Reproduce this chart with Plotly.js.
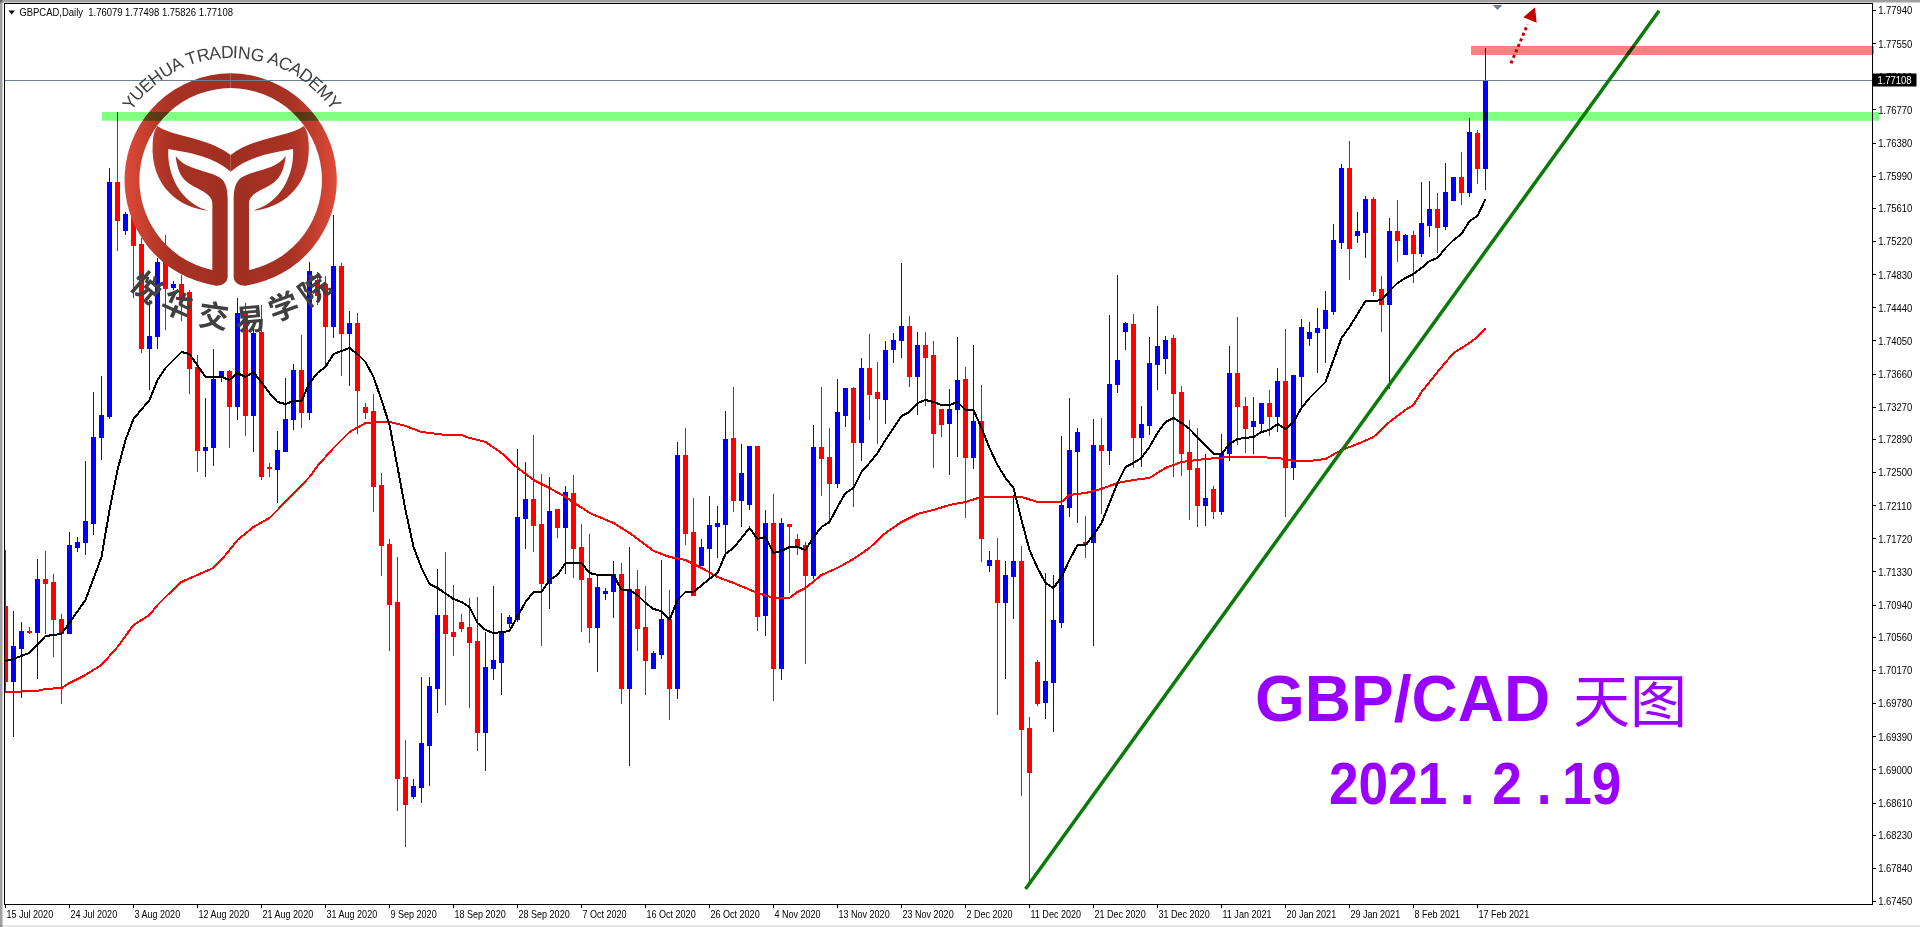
<!DOCTYPE html>
<html><head><meta charset="utf-8">
<script src="https://cdn.plot.ly/plotly-3.0.1.min.js"></script>
<style>
html,body{margin:0;padding:0;background:#fff;overflow:hidden}
#chart{width:1920px;height:927px}
.layer-above .shapelayer path{mix-blend-mode:multiply}
.boxlayer path,.scatterlayer path{shape-rendering:crispEdges !important}
</style></head><body><div id="chart"></div>
<script>
// GBPCAD daily candles, in points (1e-5)
const highs=[171589,170870,170741,170682,171483,171578,171307,170835,171801,171742,
172637,173449,173637,176086,176745,175568,175827,175262,174532,175027,
175297,174756,174826,174650,173884,173379,173955,173696,173708,174556,
174497,174238,174473,172614,172990,173614,173779,174120,174979,174862,
174814,175533,174968,174403,174379,173319,173425,172496,171719,171507,
169352,168893,170094,170094,171366,171566,171177,170835,171024,171036,
170623,171165,170847,170823,172778,172625,172943,172484,172448,172060,
172343,172472,171895,171778,171295,171142,171460,171436,171625,171354,
171165,170400,171472,171118,172861,173025,172202,171719,172225,172107,
173226,173508,172837,172813,172802,172060,172249,171966,171895,171778,
171683,173061,173508,173025,173602,173496,173508,173849,174132,173802,
174049,174144,174968,174344,174155,174155,174049,173238,173485,174097,
173743,174002,173532,171578,171730,171460,172237,171636,169623,170294,
171318,171295,172931,173379,173025,171990,173131,173143,174356,174826,
174273,174367,173284,174097,174461,174108,174120,173520,173120,173025,
172720,172343,172955,173991,174332,173390,173390,173319,173473,173732,
174191,173649,174308,174273,174438,174638,175427,176133,176404,175568,
175756,175745,174814,175497,175709,175309,175344,175921,175933,175792,
176145,175980,176274,176675,176533,177498];
const bodyHigh=[170918,170458,170635,170635,171236,171236,171201,170776,171636,171683,
171919,172919,173167,175921,175921,175533,175709,175180,174108,174968,
175062,174709,174709,174615,173732,172790,173591,173685,173685,174379,
174379,174132,174144,172555,172766,173120,173708,173708,174862,174767,
174709,174932,174932,174250,174250,173261,173214,172343,171648,170965,
168905,168799,169305,169976,170823,170823,170623,170741,170682,170506,
170200,170282,170635,170800,171966,172178,172178,171884,172037,172060,
172260,172249,171613,171259,171142,171106,171295,171295,171118,171118,
170682,170365,170765,170765,172707,172707,171789,171613,171872,171895,
172884,172896,172484,172802,172802,171895,171895,171895,171884,171707,
171636,172790,172790,172673,173202,173496,173485,173720,173720,173449,
173932,174061,174226,174226,174002,174002,173873,173238,173238,173579,
173591,173096,173096,171460,171460,171283,171448,171448,169482,170270,
170035,170753,172107,172755,172978,171683,172825,172825,173543,173814,
174250,174238,173061,173790,173979,174061,174073,173449,172731,172543,
172190,172296,172720,173661,173661,173284,173096,173319,173308,173567,
173567,173649,174214,174155,174202,174403,175227,176086,176086,175333,
175721,175721,174650,175344,175344,175297,175297,175427,175603,175592,
175792,175980,175980,176510,176498,177108];
const bodyLow=[170046,170035,170435,170623,170623,171189,170765,170600,170611,171613,
171672,171895,172919,173155,175474,175356,175168,173967,173967,174097,
174662,174685,174556,173720,172755,172755,172790,173626,173273,173273,
173178,173178,172460,172543,172531,172743,173120,173202,173202,174591,
174226,174226,174132,174132,173461,173202,172331,171636,170953,168893,
168587,168681,168787,169293,169964,170611,170565,170670,170494,169435,
169435,170188,170270,170729,170765,171954,171872,171189,171189,171848,
171848,171601,171236,170682,170682,171071,171095,169953,169953,170670,
170282,170188,170353,169964,169964,171778,171048,171401,171601,171860,
171884,172166,172166,172119,170811,170823,170188,170188,171860,171625,
171283,171283,172661,172366,172366,173167,172849,172849,173425,173367,
173355,173955,174061,173637,173626,173861,172955,173072,173084,173238,
172673,172673,171719,171401,170976,170976,171271,169470,168964,169776,
169788,170023,170741,172095,172743,171648,171683,172755,172755,173532,
174167,172908,172908,173049,173767,173838,173437,172720,172531,172107,
172107,172037,172037,172720,173273,173025,173037,173084,173155,173155,
172566,172566,173637,174073,174155,174191,174391,175215,175133,175297,
175321,174638,174485,174485,175238,175062,175085,175085,175415,175380,
175392,175709,175792,175792,176086,176079];
const lows=[169905,169387,169847,170600,170070,170600,170329,169776,170600,171566,
171531,171766,172649,173131,175109,175297,174556,173908,173473,173955,
174179,174650,174285,173425,172507,172448,172578,173567,172790,173120,
172931,172743,172413,172448,172143,172743,173002,173025,173120,174473,
173767,174085,173637,173520,172955,173131,172037,171283,170400,168516,
168092,168657,168610,168810,169670,169764,170341,170623,169729,169223,
168988,170058,169882,170670,170741,171601,171566,170458,170894,171730,
171307,171259,170623,170494,170153,171000,170788,169776,169046,170400,
169882,170188,170306,169588,169835,171648,171048,171401,171259,171495,
171542,172037,171860,172060,170635,170576,169811,170058,171083,171531,
170247,171248,172225,171895,172319,173037,172095,172637,173120,172837,
173072,173790,173849,173508,173178,173284,172555,172919,172472,172684,
171966,172543,171448,171330,169646,170070,170776,168693,167664,169752,
169600,169447,170670,171978,171907,171495,170458,172013,172590,173437,
173943,172555,172566,172943,173473,173661,172448,172460,171943,171860,
171872,171954,172002,172637,172825,172731,172720,172978,172931,172978,
171978,172413,173238,173991,173673,173790,174356,175133,174767,175203,
175027,174579,174155,173485,174979,175062,174732,175038,175274,175085,
175356,175709,175651,175745,175898,175826];
// B = up candle (blue), R = down candle (red)
const dirs="RBBRBRRRBB"+"BBBBRBRRBB"+"RBRRRBBBRB"+"RBRRBBBRBR"+"RBRBRRRRRR"+"RBBBBRRRRR"+"BBBBBBRRBR"+"BRRRBBBRBR"+"RBBRBRRBBB"+"BRBBRBRBRR"+"RBRRBBRBRR"+"BBBRBRRRBB"+"RBRBRBBRRR"+"BBBBBRBRBB"+"BRBBBBRRRR"+"BRBBRRBBRB"+"RBBBBBBBRB"+"BRRBRBRBBR"+"BBRBRB";

// Fast moving average (black)
const maFastBars=[0,1,3,5,7,8,10,12,13,14,15,16,18,19,20,21,22,23,24,25,27,28,29,30,31,32,33,34,35,36,37,38,39,40,41,43,44,45,46,47,48,49,50,51,52,53,54,56,57,58,59,60,61,62,63,65,66,67,68,69,70,71,72,73,74,76,77,78,79,80,81,82,83,84,85,86,87,88,89,90,91,92,93,94,95,96,97,98,99,100,101,102,103,104,105,106,107,108,109,110,111,112,113,114,115,116,117,118,119,120,121,122,123,124,125,126,127,128,129,130,131,132,133,134,135,136,137,138,139,140,141,142,143,144,145,146,147,148,149,150,151,152,153,154,155,156,157,158,159,160,161,162,163,164,165,166,167,168,169,170,171,172,173,174,175,176,177,178,179,180,181,182,183,184,185];
const maFast=[170282,170306,170377,170576,170600,170729,171000,171507,172060,172531,172884,173131,173355,173591,173732,173826,173920,173896,173767,173626,173626,173591,173673,173626,173685,173555,173437,173331,173308,173343,173343,173555,173673,173743,173896,173967,173896,173802,173626,173355,173061,172566,172060,171625,171378,171189,171142,171012,170976,170918,170729,170647,170611,170623,170635,170976,171095,171095,171236,171295,171436,171436,171436,171318,171295,171295,171118,171118,171059,170965,170894,170870,170765,171000,171095,171095,171177,171248,171318,171542,171613,171730,171848,171719,171742,171554,171578,171625,171625,171589,171742,171860,171919,172095,172260,172319,172507,172614,172731,172884,173025,173167,173214,173319,173355,173331,173296,173296,173331,173238,173238,173025,172790,172590,172437,172319,171943,171589,171378,171201,171142,171271,171472,171648,171648,171766,171907,172143,172378,172566,172614,172673,172802,172967,173096,173143,173084,173014,172919,172813,172720,172720,172837,172896,172908,172919,172978,173002,173072,173014,173096,173261,173379,173473,173567,173826,174085,174214,174367,174520,174520,174532,174638,174732,174791,174838,174909,174991,175027,175144,175238,175309,175462,175521,175721];
// Slow moving average (red)
const maSlowBars=[0,4,5,7,8,10,12,14,16,18,19,20,22,24,26,27,29,31,33,34,36,38,39,41,43,45,47,48,50,52,55,57,58,60,62,64,66,68,70,72,73,76,78,80,81,83,85,87,89,91,94,96,98,99,100,102,104,106,108,110,112,114,116,118,120,122,125,127,129,132,133,135,137,139,141,143,145,147,150,153,156,159,161,163,165,167,169,171,173,175,176,177,179,181,183,184,185];
const maSlow=[169917,169929,169953,169964,170023,170118,170235,170447,170706,170823,170941,171036,171213,171295,171378,171472,171707,171860,171966,172060,172260,172448,172578,172790,172978,173084,173096,173096,173049,172978,172943,172943,172908,172861,172731,172555,172413,172319,172213,172084,172025,171907,171789,171648,171578,171507,171472,171378,171271,171201,171083,171024,171024,171095,171142,171295,171378,171483,171613,171789,171919,172013,172060,172119,172154,172213,172213,172213,172154,172154,172237,172260,172308,172378,172413,172437,172555,172625,172661,172684,172684,172673,172637,172637,172661,172766,172837,172919,173096,173238,173296,173449,173685,173908,174026,174097,174202];

const yTickLabels=["1.77940","1.77550","1.77160","1.76770","1.76380","1.75990","1.75610","1.75220","1.74830","1.74440","1.74050","1.73660","1.73270","1.72890","1.72500","1.72110","1.71720","1.71330","1.70940","1.70560","1.70170","1.69780","1.69390","1.69000","1.68610","1.68230","1.67840","1.67450"];
const xTickBars=[0,8,16,24,32,40,48,56,64,72,80,88,96,104,112,120,128,136,144,152,160,168,176,184];
const xTickLabels=["15 Jul 2020","24 Jul 2020","3 Aug 2020","12 Aug 2020","21 Aug 2020","31 Aug 2020","9 Sep 2020","18 Sep 2020","28 Sep 2020","7 Oct 2020","16 Oct 2020","26 Oct 2020","4 Nov 2020","13 Nov 2020","23 Nov 2020","2 Dec 2020","11 Dec 2020","21 Dec 2020","31 Dec 2020","11 Jan 2021","20 Jan 2021","29 Jan 2021","8 Feb 2021","17 Feb 2021"];
const headerText="GBPCAD,Daily  1.76079 1.77498 1.75826 1.77108";
const trendBars=[127.5,206.7], trendPrices=[1.67598,1.77938];

const pr=a=>a.map(v=>v/1e5);
const bars=highs.map((_,i)=>i);
const opens=bars.map(i=>dirs[i]==='B'?bodyLow[i]:bodyHigh[i]);
const closes=bars.map(i=>dirs[i]==='B'?bodyHigh[i]:bodyLow[i]);

// page-pixel helpers for the decorations
const L=5,T=4,W=1867,H=900;
const PX=x=>(x-L)/W, PY=y=>1-(y-T)/H;
const AXF="'Liberation Sans',sans-serif";

const traces=[
 {type:'candlestick',x:bars,open:pr(opens),high:pr(highs),low:pr(lows),close:pr(closes),
  whiskerwidth:0,hoverinfo:'skip',
  increasing:{line:{color:'#0000ff',width:1},fillcolor:'#0000ff'},
  decreasing:{line:{color:'#ff0000',width:1},fillcolor:'#ff0000'}},
 {type:'scatter',mode:'lines',x:maSlowBars,y:pr(maSlow),line:{color:'#ff0000',width:2},hoverinfo:'skip'},
 {type:'scatter',mode:'lines',x:maFastBars,y:pr(maFast),line:{color:'#000000',width:2},hoverinfo:'skip'}
];

const rect=(x0,y0,x1,y1,c)=>({type:'rect',xref:'paper',yref:'paper',x0:PX(x0),x1:PX(x1),y0:PY(y0),y1:PY(y1),fillcolor:c,line:{width:0},layer:'above'});
const shapes=[
 rect(0,0,1920,2.5,'#a0a0a0'),
 rect(0,0,2.5,927,'#a0a0a0'),
 rect(0,925,1920,927,'#e6e6e6'),
 {type:'line',xref:'paper',yref:'y',x0:0,x1:1,y0:1.77116,y1:1.77116,line:{color:'#708090',width:1},layer:'above'},
 {type:'line',xref:'x',yref:'y',x0:trendBars[0],x1:trendBars[1],y0:trendPrices[0],y1:trendPrices[1],line:{color:'#0a7a0a',width:3.5},layer:'above'},
 rect(102,112,1879,120.7,'#80ff80'),
 rect(1471,46,1874,55,'#ff8080'),
 {type:'line',xref:'paper',yref:'paper',x0:PX(1511),y0:PY(63.3),x1:PX(1527.7),y1:PY(24.3),line:{color:'#c00000',width:3,dash:'dot'},layer:'above'},
 {type:'path',xref:'paper',yref:'paper',path:`M${PX(1523.3)},${PY(17.3)} L${PX(1535)},${PY(7.3)} L${PX(1536.7)},${PY(22.7)} Z`,fillcolor:'#c00000',line:{width:0},layer:'above'},
 {type:'path',xref:'paper',yref:'paper',path:`M${PX(1492.7)},${PY(5)} L${PX(1502.3)},${PY(5)} L${PX(1497.5)},${PY(10)} Z`,fillcolor:'#708090',line:{width:0},layer:'above'},
 {type:'path',xref:'paper',yref:'paper',path:`M${PX(8.5)},${PY(10.5)} L${PX(15)},${PY(10.5)} L${PX(11.7)},${PY(14.5)} Z`,fillcolor:'#000000',line:{width:0},layer:'above'}
];

// logo artwork (no text) as an inline SVG
const half=`<path d="M692,220 A320,320 0 0 0 650,857 L637,810 A276,276 0 0 1 692,264 Z"/>
<path d="M472,378 C520,412 620,410 692,465 L692,515 C640,470 570,458 505,447 C500,520 540,610 626,632 C540,625 450,560 458,430 Q458,400 472,378 Z"/>
<path d="M527,468 C560,515 640,510 668,540 C680,555 683,575 683,600 L683,830 C683,848 665,857 650,857 L625,850 L637,810 L637,610 C635,575 590,570 560,545 C540,530 530,500 527,468 Z"/>`;
const logo=`<svg xmlns="http://www.w3.org/2000/svg" viewBox="0 0 1440 1000" width="480" height="333.33"><defs><linearGradient id="g" gradientUnits="userSpaceOnUse" x1="372" y1="0" x2="1012" y2="0"><stop offset="0" stop-color="#de4a38"/><stop offset=".22" stop-color="#a83224"/><stop offset=".5" stop-color="#a03022"/><stop offset=".78" stop-color="#a83224"/><stop offset="1" stop-color="#de4a38"/></linearGradient></defs><g fill="url(#g)">${half}<g transform="matrix(-1 0 0 1 1384 0)">${half}</g></g></svg>`;
const images=[{source:'data:image/svg+xml;charset=utf-8,'+encodeURIComponent(logo),xref:'paper',yref:'paper',x:PX(0),y:PY(0),sizex:480/W,sizey:(1000/3)/H,sizing:'stretch',xanchor:'left',yanchor:'top',layer:'above'}];

const note=(x,y,text,size,color,extra={})=>Object.assign({xref:'paper',yref:'paper',x:PX(x),y:PY(y),text,showarrow:false,xanchor:'center',yanchor:'middle',font:{size,color,family:extra.family||"'Liberation Sans',sans-serif"}},extra.opt||{});
const annotations=[
 note(-0.5,12.3,headerText,11,'#000',{family:AXF,opt:{xanchor:'left'}}),
 note(1402,699,'<b>GBP/CAD</b>',64,'#9900ff'),
 note(1630,697,'天图',57,'#9900ff',{family:"'Noto Sans CJK SC',sans-serif"}),
 note(1475,783,'<b>2021.2.19</b>',60,'#9900ff'),
 note(1894.5,80.5,'1.77108',11,'#fff',{family:AXF,opt:{bgcolor:'#000',borderpad:1,width:41,height:10}})
];
// curved academy name over the ring
const arcText="YUEHUA TRADING ACADEMY";
const cv=document.createElement('canvas').getContext('2d');cv.font="17.5px 'Liberation Sans'";
const total=cv.measureText(arcText).width;
let run=0;const R=128;
for(const ch of arcText){
  const w=cv.measureText(ch).width;
  const a=(run+w/2-total/2)/R;run+=w;
  if(ch!==' ')annotations.push(Object.assign(note(232+R*Math.sin(a),180-R*Math.cos(a),ch,17.5,'#404040'),{textangle:a*180/Math.PI}));
}
// Chinese name under the ring
[['悦',148,286,40],['华',178,303,24],['交',214,314,8],['易',250,317,-5],['学',283,305,-20],['院',313,288,-36]].forEach(c=>{
  annotations.push(Object.assign(note(c[1],c[2],'<b>'+c[0]+'</b>',30,'#404040',{family:"'Noto Sans CJK SC',sans-serif"}),{textangle:c[3]}));
});

const layout={
 width:1920,height:927,autosize:false,showlegend:false,paper_bgcolor:'#fff',plot_bgcolor:'#fff',
 margin:{l:L,r:48,t:T,b:23,pad:0},boxgap:0.5,boxgroupgap:0,hovermode:false,dragmode:false,
 xaxis:{type:'linear',range:[-0.0625,233.3125],rangeslider:{visible:false},showgrid:false,zeroline:false,showline:true,mirror:true,linecolor:'#000',linewidth:1,
  tickmode:'array',tickvals:xTickBars,ticktext:xTickLabels,ticks:'outside',ticklen:3,tickcolor:'#000',tickwidth:1,ticklabelposition:'outside right',tickangle:0,tickfont:{family:AXF,size:11,color:'#000'},automargin:false},
 yaxis:{type:'linear',side:'right',range:[1.67421,1.78017],showgrid:false,zeroline:false,showline:true,mirror:true,linecolor:'#000',linewidth:1,
  tickmode:'array',tickvals:yTickLabels.map(Number),ticktext:yTickLabels,ticks:'outside',ticklen:3,tickcolor:'#000',tickwidth:1,tickfont:{family:AXF,size:11,color:'#000'},automargin:false},
 shapes,images,annotations
};
const squeeze=(t,k)=>{t.setAttribute('textLength',t.getComputedTextLength()*k);t.setAttribute('lengthAdjust','spacingAndGlyphs');};
Plotly.newPlot('chart',traces,layout,{displayModeBar:false,staticPlot:true}).then(()=>{
  document.querySelectorAll('.xtick text').forEach(t=>squeeze(t,0.82));
  document.querySelectorAll('.ytick text').forEach(t=>squeeze(t,0.86));
  document.querySelectorAll('.annotation-text').forEach(t=>{
    const s=t.textContent;
    if(s===headerText||s==='1.77108')squeeze(t,0.86);
    if(s==='2021.2.19'){
      const span=t.querySelector('tspan')||t;
      span.setAttribute('dx','0 0 0 0 14 20 17 12 0');
      t.setAttribute('transform','scale(0.886 1)');
      const left=t.getBoundingClientRect().left;
      t.setAttribute('transform',`translate(${1329-left} 0) scale(0.886 1)`);
    }
  });
});
</script></body></html>
